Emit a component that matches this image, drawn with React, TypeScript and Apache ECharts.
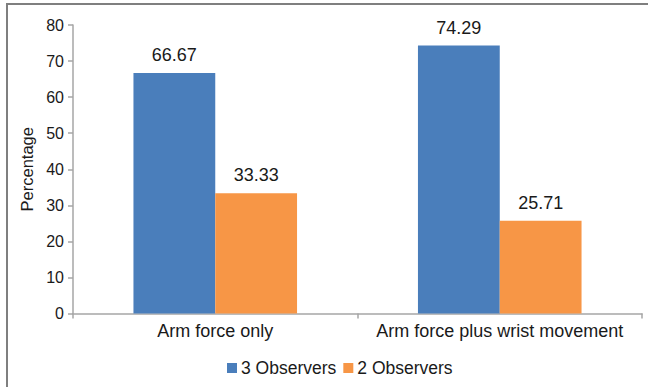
import React, { useEffect, useRef } from "react";
import * as echarts from "echarts";

const categories = ["Arm force only", "Arm force plus wrist movement"];
const seriesNames = ["3 Observers", "2 Observers"];
const threeObservers = [66.67, 74.29];
const twoObservers = [33.33, 25.71];
const colors = ["#4a7ebb", "#f79646"];

export default function App() {
  const ref = useRef<HTMLDivElement>(null);
  useEffect(() => {
    if (!ref.current) return;
    const chart = echarts.init(ref.current, undefined, { renderer: "svg" });
    const font = "'Liberation Sans', Arial, sans-serif";
    const axisColor = "#a6a6a6";
    const textColor = "#1a1a1a";
    const barLabel = {
      show: true,
      position: "top",
      distance: 9,
      fontSize: 18,
      color: textColor,
      fontFamily: font,
      formatter: (p: any) => p.value.toFixed(2),
    };
    chart.setOption({
      animation: false,
      textStyle: { fontFamily: font },
      graphic: [
        {
          type: "rect",
          shape: { x: 7, y: 4, width: 700, height: 450 },
          style: { fill: "none", stroke: "#7f7f7f", lineWidth: 2 },
          silent: true,
        },
      ],
      grid: { left: 73, right: 6, top: 25, bottom: 73.5 },
      legend: {
        data: seriesNames,
        bottom: 5,
        left: 222,
        itemWidth: 10,
        itemHeight: 10,
        itemGap: 7,
        icon: "rect",
        textStyle: { fontSize: 17.5, color: textColor, fontFamily: font, padding: [0, 0, 0, -1] },
      },
      xAxis: {
        type: "category",
        data: categories,
        axisLine: { lineStyle: { color: axisColor, width: 1.5 } },
        axisTick: { show: true, length: 5, lineStyle: { color: axisColor, width: 1.5 } },
        axisLabel: { interval: 0, fontSize: 18, color: textColor, margin: 8, fontFamily: font },
      },
      yAxis: {
        type: "value",
        min: 0,
        max: 80,
        interval: 10,
        name: "Percentage",
        nameLocation: "middle",
        nameGap: 37,
        nameTextStyle: { fontSize: 16.5, color: textColor, fontFamily: font },
        axisLine: { show: true, lineStyle: { color: axisColor, width: 1.5 } },
        axisTick: { show: true, length: 5, lineStyle: { color: axisColor, width: 1.5 } },
        axisLabel: { fontSize: 16, color: textColor, margin: 9, fontFamily: font },
        splitLine: { show: false },
      },
      series: [
        {
          name: seriesNames[0],
          type: "bar",
          data: threeObservers,
          itemStyle: { color: colors[0] },
          barGap: "0%",
          barCategoryGap: "42.5%",
          label: barLabel,
        },
        {
          name: seriesNames[1],
          type: "bar",
          data: twoObservers,
          itemStyle: { color: colors[1] },
          barGap: "0%",
          barCategoryGap: "42.5%",
          label: barLabel,
        },
      ],
    });
    return () => chart.dispose();
  }, []);
  return <div ref={ref} style={{ width: 648, height: 387, position: "absolute", left: 0, top: 0 }} />;
}
